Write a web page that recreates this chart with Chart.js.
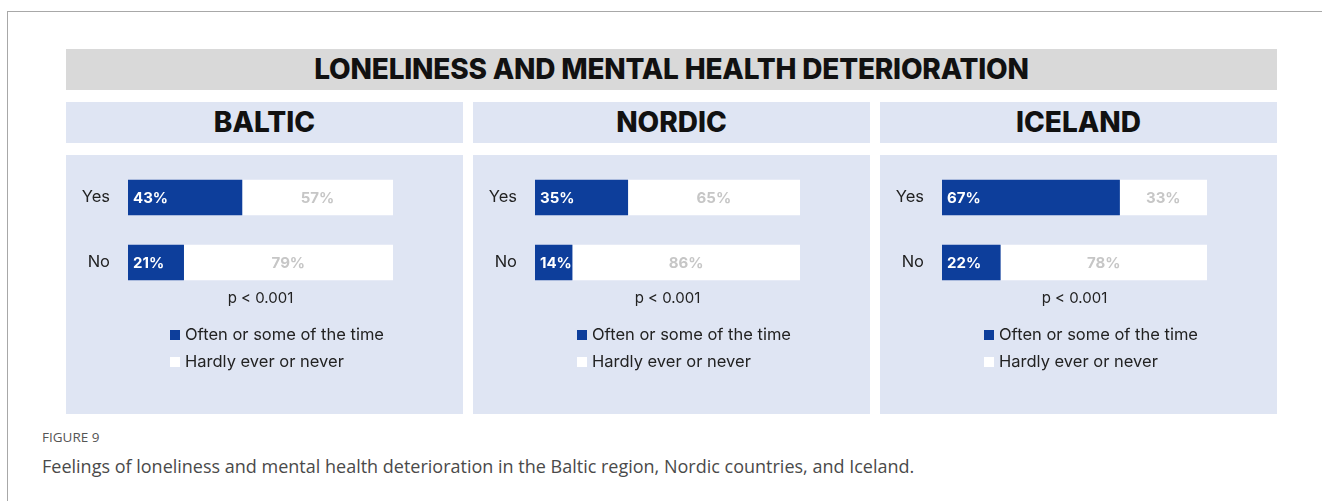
<!DOCTYPE html>
<html>
<head>
<meta charset="utf-8">
<script src="https://cdn.jsdelivr.net/npm/chart.js@4.4.1/dist/chart.umd.min.js"></script>
<style>
  body { margin: 0; background: #fff; font-family: Inter, "Noto Sans", sans-serif; }
  #frame { position: absolute; left: 7px; top: 11px; width: 1330px; height: 500px;
           border-top: 1px solid #a8a8a8; border-left: 1px solid #a8a8a8; }
  #title { position: absolute; left: 66px; top: 49px; width: 1211px; height: 41px;
           background: #d9d9d9; text-align: center; line-height: 41px;
           font-size: 28px; font-weight: 800; color: #111; letter-spacing: -0.2px; }
  .head { position: absolute; top: 102px; width: 397px; height: 41px; background: #dfe5f3;
          text-align: center; line-height: 41px; font-size: 28px; font-weight: 800; color: #111; }
  .body { position: absolute; top: 155px; width: 397px; height: 259px; background: #dfe5f3; }
  .body canvas { position: absolute; left: 0; top: 0; }
  .pval { position: absolute; left: 62px; width: 265px; top: 133px; text-align: center;
          font-size: 15px; color: #222; }
  .legend { position: absolute; left: 104px; top: 169px; font-size: 16.5px; color: #222; }
  .legend div { height: 27px; line-height: 20px; white-space: nowrap; }
  .legend span { display: inline-block; width: 10px; height: 10px; margin-right: 5px; }
  #fig { position: absolute; left: 42px; top: 428px; font-size: 13.5px; color: #555;
         font-family: "Open Sans", sans-serif; }
  #cap { position: absolute; left: 42px; top: 454px; font-size: 18px; color: #4a4a4a;
         font-family: "Open Sans", sans-serif; }
</style>
</head>
<body>
<div id="frame"></div>
<div id="title">LONELINESS AND MENTAL HEALTH DETERIORATION</div>
<div id="panels"></div>
<div id="fig">FIGURE 9</div>
<div id="cap">Feelings of loneliness and mental health deterioration in the Baltic region, Nordic countries, and Iceland.</div>
<script>
// Data
const categories = ['Yes', 'No'];
const regions = ['BALTIC', 'NORDIC', 'ICELAND'];
const seriesNames = ['Often or some of the time', 'Hardly ever or never'];
const oftenBaltic = [43, 21];
const neverBaltic = [57, 79];
const oftenNordic = [35, 14];
const neverNordic = [65, 86];
const oftenIceland = [67, 22];
const neverIceland = [33, 78];
const pValues = ['p < 0.001', 'p < 0.001', 'p < 0.001'];

const oftenAll = [oftenBaltic, oftenNordic, oftenIceland];
const neverAll = [neverBaltic, neverNordic, neverIceland];
const panelLeft = [66, 473, 880];
const blue = '#0d3e9b';

// draw percentage labels on the segments
const valueLabels = {
    id: 'valueLabels',
    afterDatasetsDraw(chart) {
        const ctx = chart.ctx;
        ctx.save();
        ctx.font = 'bold 15px Inter, "Noto Sans", sans-serif';
        ctx.textBaseline = 'middle';
        chart.data.datasets.forEach(function(ds, i) {
            chart.getDatasetMeta(i).data.forEach(function(el, j) {
                const txt = ds.data[j] + '%';
                if (i === 0) {
                    ctx.fillStyle = '#ffffff';
                    ctx.textAlign = 'left';
                    ctx.fillText(txt, el.base + 5, el.y + 1);
                } else {
                    ctx.fillStyle = '#c6c6c6';
                    ctx.textAlign = 'center';
                    ctx.fillText(txt, (el.base + el.x) / 2, el.y + 1);
                }
            });
        });
        ctx.restore();
    }
};

const panels = document.getElementById('panels');

regions.forEach(function(region, r) {
    const head = document.createElement('div');
    head.className = 'head';
    head.style.left = panelLeft[r] + 'px';
    head.textContent = region;
    panels.appendChild(head);

    const body = document.createElement('div');
    body.className = 'body';
    body.style.left = panelLeft[r] + 'px';
    panels.appendChild(body);

    const canvas = document.createElement('canvas');
    canvas.width = 397;
    canvas.height = 150;
    body.appendChild(canvas);

    const colors = [blue, '#ffffff'];

    new Chart(canvas.getContext('2d'), {
        type: 'bar',
        data: {
            labels: categories,
            datasets: [
                { label: seriesNames[0], data: oftenAll[r], backgroundColor: colors[0], barThickness: 35 },
                { label: seriesNames[1], data: neverAll[r], backgroundColor: colors[1], barThickness: 35 }
            ]
        },
        options: {
            indexAxis: 'y',
            responsive: false,
            animation: false,
            devicePixelRatio: 1,
            layout: { padding: { left: 0, right: 70, top: 10, bottom: 10 } },
            plugins: { legend: { display: false }, tooltip: { enabled: false } },
            scales: {
                x: { stacked: true, min: 0, max: 100, display: false },
                y: {
                    stacked: true,
                    grid: { display: false, drawTicks: true, tickLength: 18 },
                    border: { display: false },
                    ticks: { color: '#222', padding: 0, font: { size: 16.5, family: 'Inter, "Noto Sans", sans-serif' } },
                    afterFit: function(scale) { scale.width = 62; }
                }
            }
        },
        plugins: [valueLabels]
    });

    const p = document.createElement('div');
    p.className = 'pval';
    p.textContent = pValues[r];
    body.appendChild(p);

    const legend = document.createElement('div');
    legend.className = 'legend';
    seriesNames.forEach(function(name, i) {
        const row = document.createElement('div');
        const sw = document.createElement('span');
        sw.style.background = colors[i];
        row.appendChild(sw);
        row.appendChild(document.createTextNode(name));
        legend.appendChild(row);
    });
    body.appendChild(legend);
});
</script>
</body>
</html>
